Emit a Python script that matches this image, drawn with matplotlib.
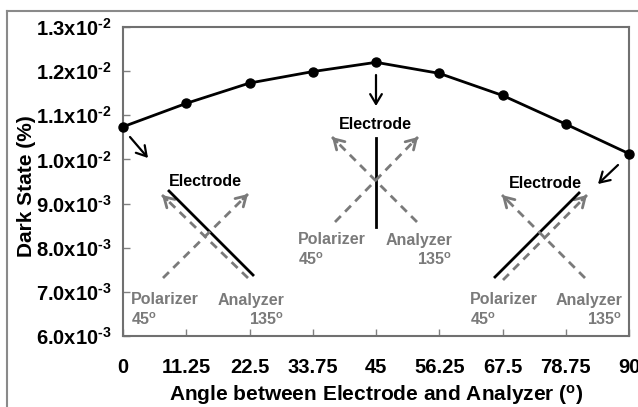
import matplotlib
matplotlib.use("Agg")
import matplotlib.pyplot as plt
from matplotlib.lines import Line2D
from matplotlib.patches import FancyArrowPatch

plt.rcParams['font.family'] = ['Liberation Sans', 'DejaVu Sans']
plt.rcParams['font.weight'] = 'bold'
plt.rcParams['mathtext.fontset'] = 'custom'
plt.rcParams['mathtext.rm'] = 'Liberation Sans:bold'
plt.rcParams['mathtext.it'] = 'Liberation Sans:bold'
plt.rcParams['mathtext.bf'] = 'Liberation Sans:bold'

# ---- data ----
angles = [0, 11.25, 22.5, 33.75, 45, 56.25, 67.5, 78.75, 90]
dark_state = [1.074e-2, 1.127e-2, 1.173e-2, 1.199e-2, 1.220e-2, 1.195e-2, 1.145e-2, 1.080e-2, 1.013e-2]
xtick_labels = ['0', '11.25', '22.5', '33.75', '45', '56.25', '67.5', '78.75', '90']
ytick_values = [6.0e-3, 7.0e-3, 8.0e-3, 9.0e-3, 1.0e-2, 1.1e-2, 1.2e-2, 1.3e-2]
ytick_labels = ['6.0x10$^{\\text{-3}}$', '7.0x10$^{\\text{-3}}$', '8.0x10$^{\\text{-3}}$', '9.0x10$^{\\text{-3}}$',
                '1.0x10$^{\\text{-2}}$', '1.1x10$^{\\text{-2}}$', '1.2x10$^{\\text{-2}}$', '1.3x10$^{\\text{-2}}$']

W, H = 638, 407
fig = plt.figure(figsize=(W / 100, H / 100), dpi=100)
L, R, T, B = 123, 629, 27, 336
ax = fig.add_axes([L / W, 1 - B / H, (R - L) / W, (B - T) / H])

ax.plot(angles, dark_state, color='black', lw=2, marker='o', ms=6.5, zorder=5, clip_on=False)
ax.set_xlim(0, 90)
ax.set_ylim(6.0e-3, 1.3e-2)
ax.set_xticks(angles)
ax.set_xticklabels(xtick_labels, fontsize=14.5, fontweight='bold')
ax.set_yticks(ytick_values)
ax.set_yticklabels(ytick_labels, fontsize=14.5, fontweight='bold')
ax.tick_params(axis='both', direction='in', length=5, width=1, color='#808080')
ax.tick_params(axis='x', pad=16)
ax.tick_params(axis='y', pad=8)
for s in ax.spines.values():
    s.set_color('#707070')
    s.set_linewidth(1.5)

ax.set_xlabel('Angle between Electrode and Analyzer ($^{o}$)', fontsize=15, fontweight='bold', labelpad=4)
fig.text(27 / W, 1 - 186 / H, 'Dark State (%)', rotation=90, ha='center', va='center',
         fontsize=15, fontweight='bold')

# outer frame
fig.add_artist(Line2D([7 / W, 7 / W], [1 - 11 / H, 0], transform=fig.transFigure, color='#8a8a8a', lw=1.5))
fig.add_artist(Line2D([7 / W, 1], [1 - 11 / H, 1 - 11 / H], transform=fig.transFigure, color='#8a8a8a', lw=1.5))


def P(x, y):
    return (x / W, 1 - y / H)


GRAY = '#7a7a7a'


def arrow(p0, p1, color='black', lw=1.6, ls='-', head=True):
    style = '->,head_length=0.5,head_width=0.3' if head else '-'
    fig.add_artist(FancyArrowPatch(
        P(*p0), P(*p1), transform=fig.transFigure, arrowstyle=style,
        color=color, lw=lw, linestyle=ls, mutation_scale=14, shrinkA=0, shrinkB=0))


def dashed_arrow(p0, p1):
    fig.add_artist(Line2D([p0[0] / W, p1[0] / W], [1 - p0[1] / H, 1 - p1[1] / H],
                          transform=fig.transFigure, color=GRAY, lw=2, dashes=(3, 2.2)))
    dx, dy = p1[0] - p0[0], p1[1] - p0[1]
    q = (p1[0] - 0.06 * dx, p1[1] - 0.06 * dy)
    arrow(q, p1, color=GRAY, lw=2)


def text(x, y, s, color='black', ha='center', size=11.5):
    fig.text(x / W, 1 - y / H, s, color=color, ha=ha, va='center', fontsize=size, fontweight='bold')


# diagram 1 (0 deg)
arrow((130, 137), (148, 158))
text(205, 182, 'Electrode')
fig.add_artist(Line2D([169 / W, 253 / W], [1 - 191 / H, 1 - 275 / H], transform=fig.transFigure, color='black', lw=2))
dashed_arrow((163, 278), (248, 194))
dashed_arrow((248, 278), (162, 195))
text(131, 300, 'Polarizer', GRAY, 'left')
text(131, 320, '45$^{o}$', GRAY, 'left')
text(284, 300, 'Analyzer', GRAY, 'right')
text(284, 320, '135$^{o}$', GRAY, 'right')

# diagram 2 (45 deg)
arrow((376, 75), (376, 106))
text(375, 124, 'Electrode')
fig.add_artist(Line2D([376 / W, 376 / W], [1 - 138 / H, 1 - 227 / H], transform=fig.transFigure, color='black', lw=2))
dashed_arrow((335, 222), (418, 137))
dashed_arrow((417, 222), (332, 137))
text(298, 240, 'Polarizer', GRAY, 'left')
text(298, 260, '45$^{o}$', GRAY, 'left')
text(452, 240, 'Analyzer', GRAY, 'right')
text(452, 260, '135$^{o}$', GRAY, 'right')

# diagram 3 (90 deg)
arrow((618, 165), (598, 184))
text(545, 183, 'Electrode')
fig.add_artist(Line2D([495 / W, 579 / W], [1 - 277 / H, 1 - 193 / H], transform=fig.transFigure, color='black', lw=2))
dashed_arrow((503, 280), (587, 195))
dashed_arrow((585, 278), (502, 195))
text(470, 300, 'Polarizer', GRAY, 'left')
text(470, 320, '45$^{o}$', GRAY, 'left')
text(622, 300, 'Analyzer', GRAY, 'right')
text(622, 320, '135$^{o}$', GRAY, 'right')

fig.savefig('out.png', dpi=100)
